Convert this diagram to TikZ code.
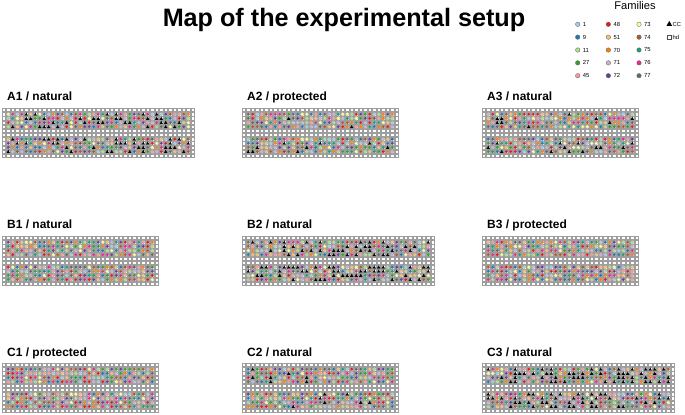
\documentclass[tikz,border=0pt]{standalone}
\usepackage{fontspec}
\setmainfont{Liberation Sans}
\usetikzlibrary{positioning,shapes.geometric}

% family colours
\definecolor{fam1}{HTML}{A6CEE3}
\definecolor{fam2}{HTML}{1F78B4}
\definecolor{fam3}{HTML}{B2DF8A}
\definecolor{fam4}{HTML}{33A02C}
\definecolor{fam5}{HTML}{FB9A99}
\definecolor{fam6}{HTML}{E31A1C}
\definecolor{fam7}{HTML}{FDBF6F}
\definecolor{fam8}{HTML}{FF7F00}
\definecolor{fam9}{HTML}{CAB2D6}
\definecolor{fam10}{HTML}{6A3D9A}
\definecolor{fam11}{HTML}{FFFF99}
\definecolor{fam12}{HTML}{B15928}
\definecolor{fam13}{HTML}{1B9E77}
\definecolor{fam14}{HTML}{E7298A}
\definecolor{fam15}{HTML}{666666}

\begin{document}
\begin{tikzpicture}[x=0.3mm, y=-0.3mm,
    mapTitle/.style={font=\bfseries\fontsize{21.5}{25}\selectfont, anchor=base, inner sep=0pt},
    mapLabel/.style={font=\bfseries\fontsize{10.2}{12}\selectfont, anchor=base west, inner sep=0pt},
    mapHd/.style={draw=black!38, line width=0.4pt, fill=white},
    mapPlant/.style={draw=black!30, line width=0.2pt},
    mapCc/.style={fill=black},
    mapKeyDot/.style={circle, draw=black!60, line width=0.3pt, inner sep=0pt, minimum size=1.35mm},
    mapKey/.style={font=\fontsize{5}{6}\selectfont, anchor=west, inner sep=0pt}]

    \useasboundingbox (0,0) rectangle (685,415);
    \pgfmathsetseed{2718}

    \node[mapTitle] (title) at (344, 27) {Map of the experimental setup};

    % legend
    \node[font=\fontsize{9.5}{11}\selectfont, anchor=base, inner sep=0pt] (famTitle) at (635, 9.5) {Families};
    \foreach \fam/\col/\lx/\ly in {1/1/0/0, 9/2/0/1, 11/3/0/2, 27/4/0/3, 45/5/0/4,
        48/6/1/0, 51/7/1/1, 70/8/1/2, 71/9/1/3, 72/10/1/4,
        73/11/2/0, 74/12/2/1, 75/13/2/2, 76/14/2/3, 77/15/2/4} {
        \node[mapKeyDot, fill=fam\col] (key\fam) at (577.7+\lx*30.65, 24.3+\ly*12.85) {};
        \node[mapKey, right=0.75mm of key\fam] (keyLab\fam) {\fam};
    }
    \node[regular polygon, regular polygon sides=3, fill=black, inner sep=0pt, minimum size=2mm] (keyCc) at (669.3, 24.3) {};
    \node[mapKey] (keyLabCc) at (672.5, 24.3) {CC};
    \node[draw=black!70, line width=0.3pt, inner sep=0pt, minimum size=1.25mm] (keyHd) at (669.3, 37.2) {};
    \node[mapKey] (keyLabHd) at (672.5, 37.2) {hd};

    % panels: name / type / x / y / columns / share of CC
    \foreach \pname/\ptype/\xo/\yo/\nc/\thr in {
        A1/natural/1.5/108/43/0.22, A2/protected/241.5/108/35/0.03, A3/natural/481.5/108/35/0.08,
        B1/natural/1.5/236/35/0, B2/natural/241.5/236/43/0.2, B3/protected/481.5/236/35/0,
        C1/protected/1.5/363/35/0, C2/natural/241.5/363/35/0.04, C3/natural/481.5/363/43/0.3} {
        \node[mapLabel] (lab\pname) at (\xo+5.5, \yo-7) {\pname{} / \ptype};
        \pgfmathtruncatemacro\lastc{\nc-1}
        % hd squares
        \foreach \j in {1,...,12} {
            \foreach \i in {1,...,\nc} {
                \pgfmathsetmacro\cx{\xo+(\i-0.5)*4.5}
                \pgfmathsetmacro\cy{\yo+(\j-0.5)*4.15}
                \draw[mapHd] (\cx-1.65,\cy-1.65) rectangle (\cx+1.65,\cy+1.65);
            }
        }
        % plants
        \foreach \j in {2,3,4,5,8,9,10,11} {
            \foreach \i in {2,...,\lastc} {
                \pgfmathsetmacro\cx{\xo+(\i-0.5)*4.5}
                \pgfmathsetmacro\cy{\yo+(\j-0.5)*4.15}
                \pgfmathsetmacro\rv{rnd}
                \ifdim\rv pt<\thr pt
                    \fill[mapCc] (\cx-1.7,\cy+1.4) -- (\cx+1.7,\cy+1.4) -- (\cx,\cy-1.8) -- cycle;
                \else
                    \pgfmathrandominteger{\fc}{1}{15}
                    \draw[mapPlant, fill=fam\fc] (\cx,\cy) circle[radius=1.9];
                \fi
            }
        }
    }
\end{tikzpicture}
\end{document}
